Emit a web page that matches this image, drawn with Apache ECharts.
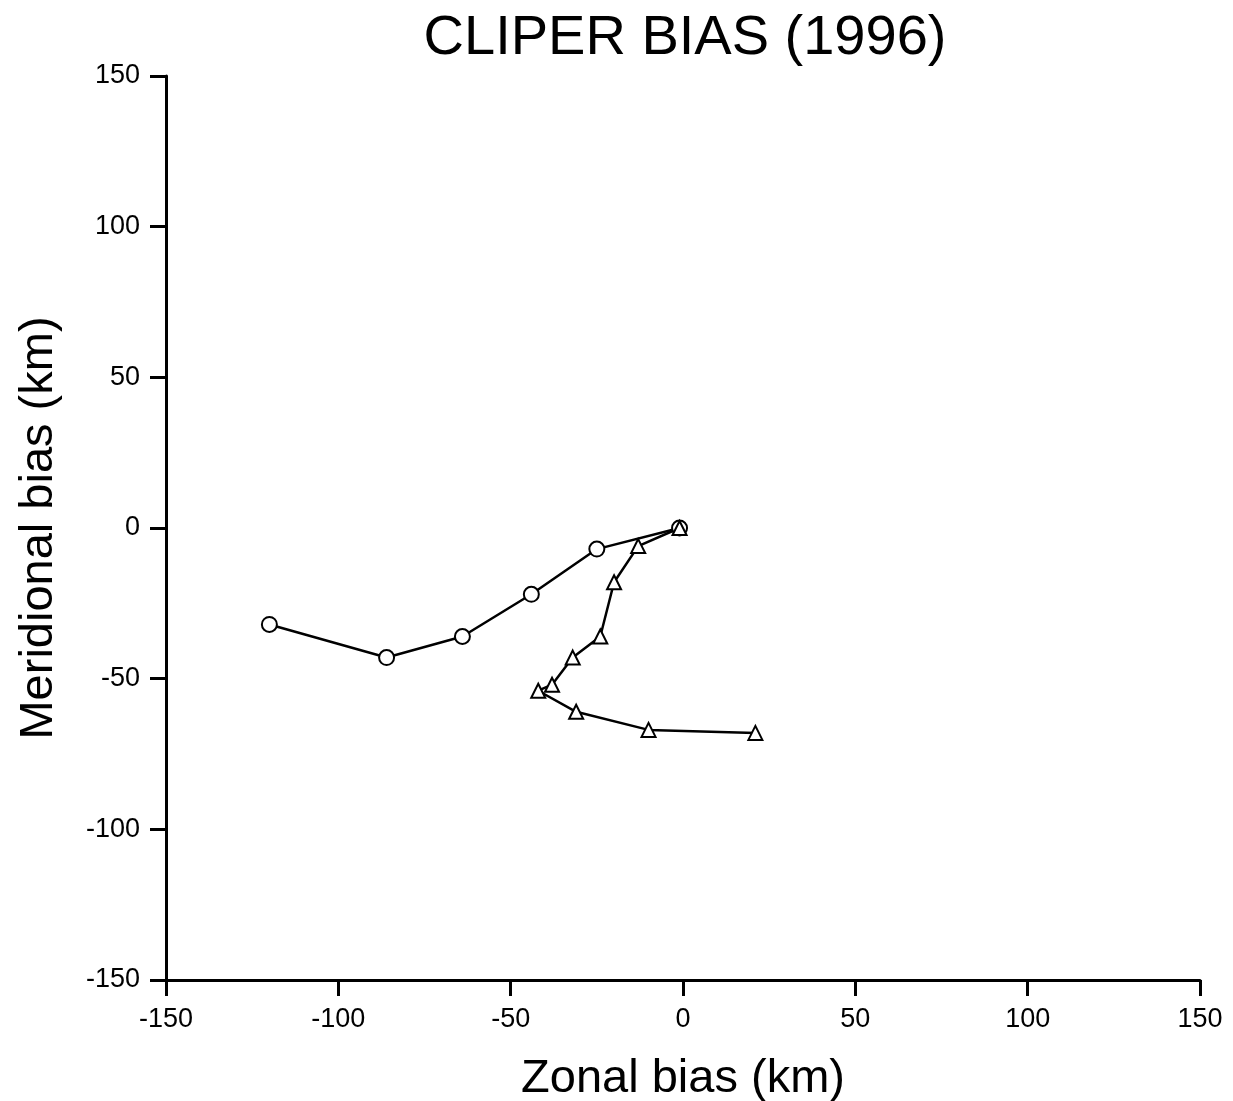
<!DOCTYPE html>
<html>
<head>
<meta charset="utf-8">
<script src="https://cdn.jsdelivr.net/npm/echarts@6/dist/echarts.min.js"></script>
<style>
  html, body { margin: 0; padding: 0; background: #fff; }
  #chart { width: 1233px; height: 1101px; }
</style>
</head>
<body>
<div id="chart"></div>
<script>
// circle track (zonal, meridional) in km
var circleX = [-1, -25, -44, -64, -86, -120];
var circleY = [0, -7, -22, -36, -43, -32];
// triangle track
var triX = [-1, -13, -20, -24, -32, -38, -42, -31, -10, 21];
var triY = [0, -6, -18, -36, -43, -52, -54, -61, -67, -68];

function pairs(xs, ys) {
  var out = [];
  for (var i = 0; i < xs.length; i++) out.push([xs[i], ys[i]]);
  return out;
}

var font = 'Liberation Sans, Arial, Helvetica, sans-serif';
var chart = echarts.init(document.getElementById('chart'), null, { renderer: 'canvas' });

var axisCommon = {
  type: 'value',
  min: -150,
  max: 150,
  interval: 50,
  axisLine: { onZero: false, lineStyle: { color: '#000', width: 3 } },
  axisTick: { inside: false, length: 16, lineStyle: { color: '#000', width: 3 } },
  splitLine: { show: false },
  nameLocation: 'middle',
  nameTextStyle: { color: '#000', fontSize: 47, fontFamily: font }
};

chart.setOption({
  animation: false,
  backgroundColor: '#fff',
  title: {
    text: 'CLIPER BIAS (1996)',
    left: 680,
    textAlign: 'center',
    top: 6,
    textStyle: { color: '#000', fontSize: 56, fontWeight: 'normal', fontFamily: font }
  },
  grid: { left: 166, right: 33, top: 76, bottom: 121, outerBoundsMode: 'none', containLabel: false },
  xAxis: Object.assign({}, axisCommon, {
    name: 'Zonal bias (km)',
    nameGap: 76,
    axisLabel: { color: '#000', fontSize: 27, fontFamily: font, margin: 26 }
  }),
  yAxis: Object.assign({}, axisCommon, {
    name: 'Meridional bias (km)',
    nameGap: 103,
    axisLabel: { color: '#000', fontSize: 27, fontFamily: font, margin: 26 }
  }),
  series: [
    {
      type: 'line',
      data: pairs(circleX, circleY),
      symbol: 'emptyCircle',
      symbolSize: 15,
      lineStyle: { color: '#000', width: 2.5 },
      itemStyle: { color: '#000', borderColor: '#000', borderWidth: 2.5 }
    },
    {
      type: 'line',
      data: pairs(triX, triY),
      symbol: 'emptyTriangle',
      symbolSize: 14,
      lineStyle: { color: '#000', width: 2.5 },
      itemStyle: { color: '#000', borderColor: '#000', borderWidth: 2.5 }
    }
  ]
});
</script>
</body>
</html>
